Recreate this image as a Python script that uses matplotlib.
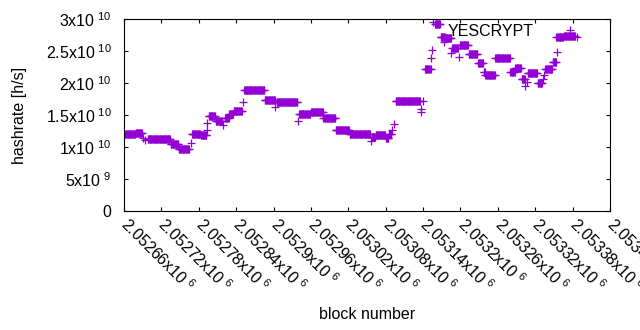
import numpy as np
import matplotlib
matplotlib.use('Agg')
import matplotlib.pyplot as plt
from matplotlib.ticker import FuncFormatter

plt.rcParams['font.family'] = ['Liberation Sans', 'DejaVu Sans']
plt.rcParams['mathtext.fontset'] = 'custom'
plt.rcParams['mathtext.rm'] = 'Liberation Sans'
plt.rcParams['mathtext.default'] = 'regular'

first_block = 2052660
# runs of blocks sharing one hashrate estimate (block offsets, hashrate in 1e9 h/s)
run_start = [2, 19, 38, 75, 88, 109, 123, 136, 147, 162, 169, 176, 193, 226, 245,
             281, 300, 320, 340, 362, 398, 404, 420, 425, 436, 483, 499, 508, 516,
             527, 539, 553, 568, 577, 580, 596, 620, 628, 638, 648, 664, 676, 688,
             694, 706]
run_end = [18, 29, 74, 87, 104, 122, 132, 146, 157, 168, 175, 189, 225, 242, 278,
           299, 319, 339, 361, 395, 403, 419, 424, 429, 475, 492, 507, 515, 525,
           536, 552, 567, 576, 579, 595, 619, 627, 637, 643, 663, 671, 687, 693,
           705, 724]
run_hash = [12.0, 12.2, 11.2, 10.4, 9.7, 12.1, 11.8, 14.9, 14.1, 14.5, 15.1, 15.6,
            18.9, 17.3, 17.0, 15.1, 15.4, 14.6, 12.6, 12.0, 11.5, 11.9, 11.4, 12.1,
            17.2, 22.2, 29.2, 27.2, 27.1, 25.4, 26.0, 24.5, 23.1, 21.7, 21.2, 23.9,
            21.7, 22.3, 20.7, 21.5, 20.0, 22.2, 23.3, 27.2, 27.4]
# single blocks off the runs
single_block = [30, 33, 107, 133, 134, 159, 191, 243, 279, 396, 430, 433, 476, 477,
                480, 493, 494, 496, 514, 525, 537, 644, 647, 672, 674, 695, 727]
single_hash = [11.4, 11.1, 10.7, 12.7, 13.7, 13.4, 17.0, 16.2, 14.1, 10.9, 12.7,
               13.6, 15.4, 15.9, 17.2, 23.9, 25.2, 29.6, 26.4, 24.7, 24.0, 19.6,
               20.2, 20.7, 21.3, 24.8, 27.2]

x_ticks = [2052660, 2052720, 2052780, 2052840, 2052900, 2052960, 2053020,
           2053080, 2053140, 2053200, 2053260, 2053320, 2053380, 2053440]
y_ticks = [0, 5e9, 1e10, 1.5e10, 2e10, 2.5e10, 3e10]

blocks = []
hashes = []
for s, e, h in zip(run_start, run_end, run_hash):
    for b in range(s, e + 1):
        blocks.append(b)
        hashes.append(h)
blocks += single_block
hashes += single_hash
blocks = np.array(blocks) + first_block
hashes = np.array(hashes) * 1e9

fig = plt.figure(figsize=(6.4, 3.3), dpi=100)
ax = fig.add_axes([124/640, 1 - 211/330, 486/640, 192/330])

ax.plot(blocks, hashes, linestyle='none', marker='+', ms=5.2, mew=0.9,
        color='#9400D3', label='YESCRYPT')

ax.set_xlim(x_ticks[0], x_ticks[-1])
ax.set_ylim(y_ticks[0], y_ticks[-1])
ax.set_xticks(x_ticks)
ax.set_yticks(y_ticks)


def xfmt(v, pos):
    return '%gx10$^{\\ 6}$' % (v / 1e6)


def yfmt(v, pos):
    if v <= 0:
        return '0'
    e = int(np.floor(np.log10(v) + 1e-9))
    return '%gx10$^{\\ %d}$' % (v / 10**e, e)


ax.xaxis.set_major_formatter(FuncFormatter(xfmt))
ax.yaxis.set_major_formatter(FuncFormatter(yfmt))
ax.tick_params(direction='in', length=3, width=0.8, top=True, right=True,
               labelsize=11.5, colors='black')
ax.tick_params(axis='y', pad=9)
ax.tick_params(axis='x', pad=7, labelrotation=-45)
for lab in ax.get_xticklabels():
    lab.set_ha('left')
    lab.set_va('center')
    lab.set_rotation_mode('anchor')
for sp in ax.spines.values():
    sp.set_linewidth(0.8)

ax.set_ylabel('hashrate [h/s]', fontsize=11.5)
ax.yaxis.set_label_coords(-0.2, 0.5)
ax.set_xlabel('block number', fontsize=11.5)
ax.xaxis.set_label_coords(0.5, -0.5)

ax.legend(loc='center right', bbox_to_anchor=(0.997, 0.9375), frameon=False,
          markerfirst=False, handlelength=3, handletextpad=0.8, fontsize=11.5,
          borderpad=0.4, numpoints=1)

fig.savefig('out.png', dpi=100)
